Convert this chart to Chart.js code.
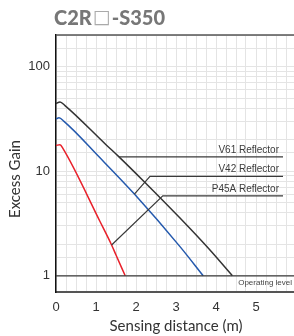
<!DOCTYPE html>
<html>
<head>
<meta charset="utf-8">
<script src="https://cdn.jsdelivr.net/npm/chart.js@4.4.0/dist/chart.umd.min.js"></script>
<style>
  html, body { margin: 0; padding: 0; background: #fff; }
  #wrap { width: 294px; height: 336px; }
</style>
</head>
<body>
<div id="wrap"><canvas id="gainChart" width="294" height="336"></canvas></div>
<script>
// ---- data (distance in m, excess gain) ----
const v61Dist = [0, 0.1, 0.225, 1.25, 1.575, 2.225, 3.1, 3.81, 4.41];
const v61Gain = [44.2, 45.9, 42.3, 17.9, 13.7, 7.79, 3.56, 1.83, 1];

const v42Dist = [0, 0.075, 0.2, 1.1, 1.96, 3.1, 3.68];
const v42Gain = [31.6, 32.3, 29.9, 13.4, 6.04, 1.9, 1];

const p45Dist = [0, 0.1, 0.18, 1.1, 1.39, 1.5, 1.73];
const p45Gain = [17.6, 17.9, 16.3, 3.3, 1.97, 1.58, 1];

// leader lines from each curve to its label
const v61LeaderDist = [1.575, 5.675];
const v61LeaderGain = [13.7, 13.7];
const v42LeaderDist = [1.96, 2.35, 5.675];
const v42LeaderGain = [6.04, 8.9, 8.9];
const p45LeaderDist = [1.39, 2.67, 5.675];
const p45LeaderGain = [1.97, 5.81, 5.81];

const operatingDist = [0, 5.95];
const operatingGain = [1, 1];

const seriesNames = ["V61 Reflector", "V42 Reflector", "P45A Reflector"];
const xTickLabels = [0, 1, 2, 3, 4, 5];
const yTickLabels = [1, 10, 100];

const toPoints = (xs, ys) => xs.map((x, i) => ({ x: x, y: ys[i] }));

const curve = (name, xs, ys, color) => ({
    label: name,
    data: toPoints(xs, ys),
    borderColor: color,
    borderWidth: 1.5,
    pointRadius: 0,
    cubicInterpolationMode: "monotone",
    fill: false
});

const leader = (name, xs, ys) => ({
    label: name,
    data: toPoints(xs, ys),
    borderColor: "#3a3a3a",
    borderWidth: 1.2,
    pointRadius: 0,
    tension: 0,
    fill: false
});

const datasets = [
    leader("operating", operatingDist, operatingGain),
    leader("v61 leader", v61LeaderDist, v61LeaderGain),
    leader("v42 leader", v42LeaderDist, v42LeaderGain),
    leader("p45 leader", p45LeaderDist, p45LeaderGain),
    curve(seriesNames[2], p45Dist, p45Gain, "#e8202a"),
    curve(seriesNames[1], v42Dist, v42Gain, "#2459ad"),
    curve(seriesNames[0], v61Dist, v61Gain, "#333333")
];

// labels, title and frame drawn on top of the chart
const decorations = {
    id: "decorations",
    afterDraw(chart) {
        const c = chart.ctx;
        const xs = chart.scales.x;
        const ys = chart.scales.y;
        const area = chart.chartArea;

        c.save();

        // top frame line
        c.strokeStyle = "#555";
        c.lineWidth = 1.5;
        c.beginPath();
        c.moveTo(area.left, area.top);
        c.lineTo(area.right, area.top);
        c.stroke();

        // reflector labels sit just above their leader lines
        c.font = "10px 'Liberation Sans', Arial, sans-serif";
        c.fillStyle = "#3c3c3c";
        c.textAlign = "right";
        c.textBaseline = "middle";
        const leaders = [
            [v61LeaderDist, v61LeaderGain],
            [v42LeaderDist, v42LeaderGain],
            [p45LeaderDist, p45LeaderGain]
        ];
        leaders.forEach((ld, i) => {
            const end = ld[0].length - 1;
            c.fillText(seriesNames[i], xs.getPixelForValue(ld[0][end]) - 4,
                       ys.getPixelForValue(ld[1][end]) - 7);
        });

        // operating level
        c.font = "8px 'Liberation Sans', Arial, sans-serif";
        c.fillStyle = "#444";
        c.fillText("Operating level", area.right - 2, ys.getPixelForValue(operatingGain[0]) + 7.5);

        // y axis title
        c.font = "15px Lato, sans-serif";
        c.fillStyle = "#333";
        c.textAlign = "center";
        c.translate(15, 179);
        c.rotate(-Math.PI / 2);
        c.fillText("Excess Gain", 0, 0);
        c.setTransform(1, 0, 0, 1, 0, 0);

        // x axis title
        c.fillText("Sensing distance (m)", 176, 326);

        // chart title
        c.textAlign = "left";
        c.fillStyle = "#777";
        c.font = "900 20px Lato, sans-serif";
        let tx = 54;
        c.fillText("C2R", tx, 18.5);
        tx += c.measureText("C2R").width + 1;
        c.font = "19px 'DejaVu Sans', sans-serif";
        c.fillStyle = "#aaa";
        c.fillText("\u25A1", tx, 18.5);
        tx += c.measureText("\u25A1").width + 1;
        c.font = "900 20px Lato, sans-serif";
        c.fillStyle = "#777";
        c.fillText("-S350", tx, 18.5);

        c.restore();
    }
};

new Chart(document.getElementById("gainChart"), {
    type: "line",
    data: { datasets: datasets },
    options: {
        responsive: false,
        animation: false,
        layout: { padding: { top: 35, right: 0, left: 0, bottom: 0 } },
        plugins: {
            legend: { display: false },
            tooltip: { enabled: false }
        },
        scales: {
            x: {
                type: "linear",
                min: 0,
                max: 5.95,
                afterFit: s => { s.height = 44; },
                ticks: {
                    stepSize: 0.25,
                    includeBounds: false,
                    autoSkip: false,
                    maxRotation: 0,
                    padding: 8,
                    color: "#333",
                    font: { family: "'Liberation Sans Narrow', 'Liberation Sans'", size: 13 },
                    callback: v => xTickLabels.includes(v) ? v : ""
                },
                grid: { color: "#e4e4e4", lineWidth: 1, drawTicks: false },
                border: { color: "#555", width: 2 }
            },
            y: {
                type: "logarithmic",
                min: 0.7,
                max: 200,
                afterFit: s => { s.width = 56; },
                ticks: {
                    autoSkip: false,
                    padding: 6,
                    color: "#333",
                    font: { family: "'Liberation Sans Narrow', 'Liberation Sans'", size: 13 },
                    callback: v => yTickLabels.includes(v) ? v : ""
                },
                grid: {
                    drawTicks: false,
                    color: ctx => (ctx.tick && ctx.tick.value < 0.99) ? "rgba(0,0,0,0)" : "#e4e4e4",
                    lineWidth: 1
                },
                border: { color: "#111", width: 1.5 }
            }
        }
    },
    plugins: [decorations]
});
</script>
</body>
</html>
